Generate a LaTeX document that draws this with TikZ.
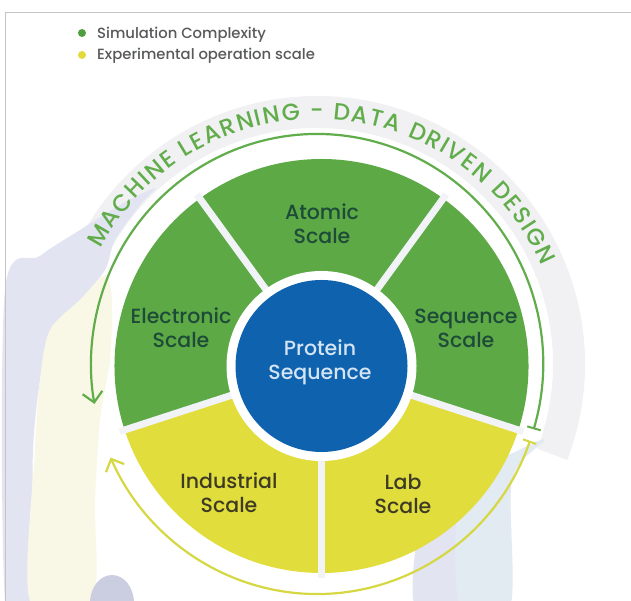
\documentclass[tikz,border=0pt]{standalone}
\usepackage{fontspec}
\setmainfont{Poppins}[UprightFont=* Medium]
\usetikzlibrary{arrows.meta,decorations.text,calc}
\definecolor{secgreen}{HTML}{5CA946}
\definecolor{secyellow}{HTML}{E1DD3C}
\definecolor{protblue}{HTML}{0F62AE}
\definecolor{greentext}{HTML}{1D4B38}
\definecolor{yellowtext}{HTML}{3D3B25}
\definecolor{bluetext}{HTML}{D3E4F4}
\definecolor{arcgreen}{HTML}{62AD4B}
\definecolor{arcyellow}{HTML}{D6D843}
\definecolor{bandgray}{HTML}{F1F1F4}
\definecolor{lavender}{HTML}{E2E5F1}
\definecolor{paleblue}{HTML}{E2EAF2}
\definecolor{paleyellow}{HTML}{F9F8E6}
\definecolor{blobcol}{HTML}{CBCDE1}
\definecolor{legtext}{HTML}{58595B}
\definecolor{leggreen}{HTML}{4F9E3F}
\definecolor{legyellow}{HTML}{E4DA3C}
\definecolor{framegray}{HTML}{C4C4C4}
\definecolor{gapcol}{HTML}{F2F3F7}
\newcommand\arcfont{\fontsize{23.5}{23.5}\selectfont}
\tikzset{
  seclabel/.style={align=center, font=\fontsize{20.5}{24}\selectfont, inner sep=0pt},
  gtext/.style={seclabel, text=greentext},
  ytext/.style={seclabel, text=yellowtext},
  legendtext/.style={anchor=base west, font=\fontsize{14.8}{16}\selectfont, text=legtext, inner sep=0pt},
  cyclearc/.style={line width=2.2pt},
  gapline/.style={gapcol, line width=7pt},
}
\begin{document}
\begin{tikzpicture}[x=1pt,y=1pt]
\useasboundingbox (0,0) rectangle (631,601);
\fill[white] (0,0) rectangle (631,601);
\coordinate (Cs) at (321.5,235);
\coordinate (Ca) at (317,237);
\begin{scope}
\clip (0,0) rectangle (631,601);
% background washes
\fill[bandgray] ($(Ca)+(-21:268)$) arc[start angle=-21,end angle=165,radius=268]
  -- ($(Ca)+(165:236)$) arc[start angle=165,end angle=-21,radius=236] -- cycle;
\fill[lavender] plot[smooth cycle, tension=0.5] coordinates {(5,311) (40,345) (80,371) (120,396) (155,413) (140,396) (115,361) (105,331) (80,301) (50,271) (40,221) (33,151) (30,0) (5,0)};
\fill[paleyellow] plot[smooth cycle, tension=0.5] coordinates {(50,271) (80,301) (105,326) (112,301) (110,241) (100,181) (95,101) (92,0) (30,0) (35,151) (40,221)};
\fill[blobcol] (112,-2) ellipse[x radius=22, y radius=28];
\fill[lavender] plot[smooth cycle, tension=0.5] coordinates {(415,-5) (418,71) (432,96) (455,111) (462,101) (462,-5)};
\fill[paleblue] plot[smooth cycle, tension=0.5] coordinates {(460,-5) (458,101) (480,131) (515,149) (545,161) (512,121) (510,-5)};
\end{scope}
% frame
\draw[framegray, line width=0.8pt] (5,0) -- (5,589) -- (631,589);
% legend
\fill[leggreen] (82,568) circle (4);
\fill[legyellow] (82,546) circle (4);
\node[legendtext] (leg1) at (97,562.5) {Simulation Complexity};
\node[legendtext] (leg2) at (97,541) {Experimental operation scale};
% sectors
\foreach \s/\c in {198/secyellow, 270/secyellow, 342/secgreen, 54/secgreen, 126/secgreen}
  \fill[\c] (Cs) -- ++(\s:207) arc[start angle=\s, end angle=\s+72, radius=207] -- cycle;
\foreach \s in {198,270,342,54,126}
  \draw[gapline] (Cs) -- ++(\s:212);
\fill[white] (Cs) circle (95);
\node[circle, fill=protblue, minimum size=172pt, inner sep=0pt] (protein) at (Cs) {};
\node[seclabel, text=bluetext] (protlabel) at (320,239) {Protein\\Sequence};
% sector labels
\node[gtext] (atomic) at (322,377) {Atomic\\Scale};
\node[gtext] (electronic) at (181,273) {Electronic\\Scale};
\node[gtext] (sequence) at (466,273) {Sequence\\Scale};
\node[ytext] (industrial) at (229,108) {Industrial\\Scale};
\node[ytext] (lab) at (403,107) {Lab\\Scale};
% cycle arcs
\draw[arcgreen, cyclearc, {Bar[width=14pt,line width=2pt]}-{Straight Barb[length=10pt,width=20pt,line width=2.2pt]}]
  ($(Ca)+(-16.5:226 and 230)$) arc[start angle=-16.5, end angle=190, x radius=226, y radius=230];
\draw[arcyellow, cyclearc, {Bar[width=14pt,line width=2pt]}-{Straight Barb[length=10pt,width=20pt,line width=2.2pt]}]
  ($(Ca)+(-19.5:226 and 230)$) arc[start angle=-19.5, end angle=-156, x radius=226, y radius=230];
% arc text
\path[decorate, decoration={text along path, text align=fit to path, text color=arcgreen,
  text={|\arcfont|MACHINE LEARNING - DATA DRIVEN DESIGN}}]
  ($(Ca)+(152:245)$) arc[start angle=152, end angle=23.5, radius=245];
\end{tikzpicture}
\end{document}
